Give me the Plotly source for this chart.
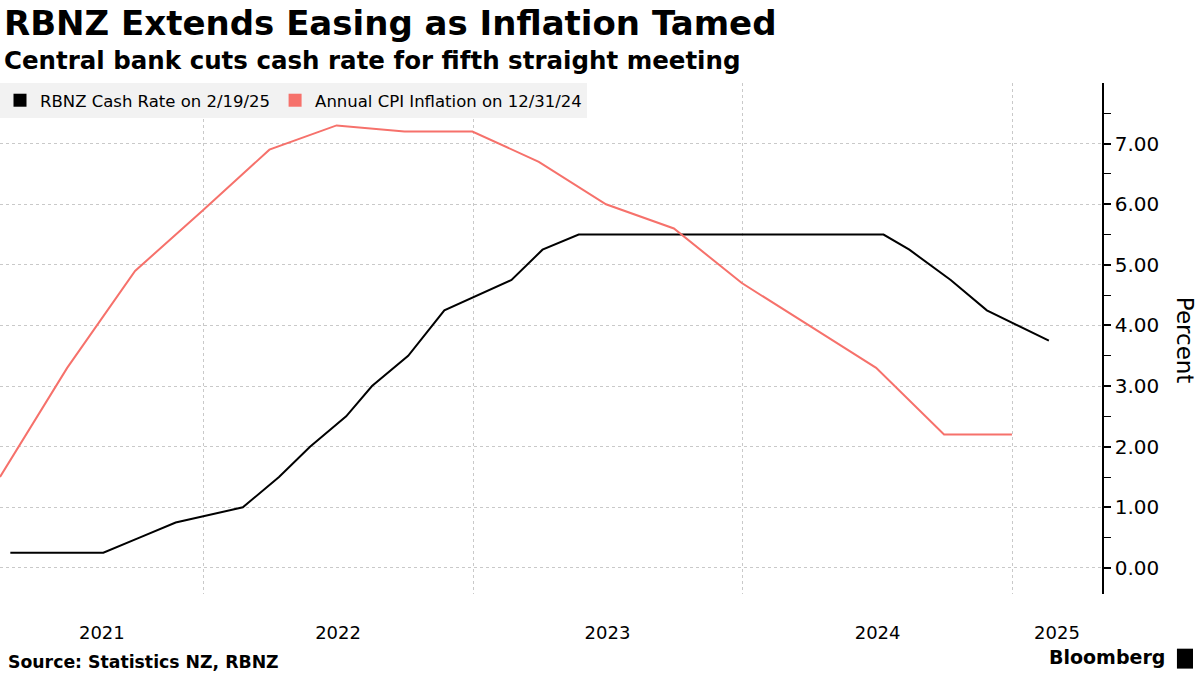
import plotly.graph_objects as go

# ---- data ----
cash_dates = ["2021-04-14", "2021-05-26", "2021-07-14", "2021-08-18", "2021-10-06", "2021-11-24",
              "2022-02-23", "2022-04-13", "2022-05-25", "2022-07-13", "2022-08-17", "2022-10-05",
              "2022-11-23", "2023-02-22", "2023-04-05", "2023-05-24", "2023-07-12", "2023-08-16",
              "2023-10-04", "2023-11-29", "2024-02-28", "2024-04-10", "2024-05-22", "2024-07-10",
              "2024-08-14", "2024-10-09", "2024-11-27", "2025-02-19"]
cash_rate = [0.25, 0.25, 0.25, 0.25, 0.5, 0.75,
             1.0, 1.5, 2.0, 2.5, 3.0, 3.5,
             4.25, 4.75, 5.25, 5.5, 5.5, 5.5,
             5.5, 5.5, 5.5, 5.5, 5.5, 5.5,
             5.25, 4.75, 4.25, 3.75]

cpi_dates = ["2021-03-31", "2021-06-30", "2021-09-30", "2021-12-31",
             "2022-03-31", "2022-06-30", "2022-09-30", "2022-12-31",
             "2023-03-31", "2023-06-30", "2023-09-30", "2023-12-31",
             "2024-03-31", "2024-06-30", "2024-09-30", "2024-12-31"]
cpi_values = [1.5, 3.3, 4.9, 5.9,
              6.9, 7.3, 7.2, 7.2,
              6.7, 6.0, 5.6, 4.7,
              4.0, 3.3, 2.2, 2.2]

year_boundaries = ["2022-01-01", "2023-01-01", "2024-01-01", "2025-01-01"]
year_label_pos = ["2021-08-16", "2022-07-02", "2023-07-02", "2024-07-02", "2025-03-02"]
year_labels = ["2021", "2022", "2023", "2024", "2025"]
y_ticks = [0, 1, 2, 3, 4, 5, 6, 7]
y_ticktext = ["0.00", "1.00", "2.00", "3.00", "4.00", "5.00", "6.00", "7.00"]

x_range = ["2021-03-31", "2025-05-02"]

BLACK = "#000000"
SALMON = "#f6716b"
FONT = "DejaVu Sans"

fig = go.Figure()
fig.add_trace(go.Scatter(x=cash_dates, y=cash_rate, mode="lines",
                         line=dict(color=BLACK, width=2), showlegend=False))
fig.add_trace(go.Scatter(x=cpi_dates, y=cpi_values, mode="lines",
                         line=dict(color=SALMON, width=2), showlegend=False))
# legend entries with square symbols
fig.add_trace(go.Scatter(x=[None], y=[None], mode="markers", xaxis="x2",
                         marker=dict(symbol="square", size=13, color=BLACK),
                         name="RBNZ Cash Rate on 2/19/25"))
fig.add_trace(go.Scatter(x=[None], y=[None], mode="markers", xaxis="x2",
                         marker=dict(symbol="square", size=13, color=SALMON),
                         name="Annual CPI Inflation on 12/31/24"))

grid = "#c9c9c9"
fig.update_layout(
    width=1200, height=675,
    margin=dict(l=0, r=98, t=83, b=81),
    paper_bgcolor="white", plot_bgcolor="white",
    font=dict(family=FONT, color="black"),
    showlegend=True,
    legend=dict(orientation="h", x=0, y=1, xanchor="left", yanchor="top",
                bgcolor="#f2f2f2", font=dict(size=16.5, family=FONT),
                itemwidth=30, tracegroupgap=0),
    xaxis=dict(type="date", range=x_range, tickvals=year_boundaries,
               showticklabels=False, ticks="", showgrid=True, gridcolor=grid,
               griddash="dot", gridwidth=1, zeroline=False, showline=False),
    xaxis2=dict(type="date", range=x_range, overlaying="x", anchor="y", side="bottom",
                tickvals=year_label_pos, ticktext=year_labels, ticks="",
                showgrid=False, zeroline=False, showline=False,
                tickfont=dict(size=18, family=FONT), ticklabelstandoff=26),
    yaxis=dict(side="right", range=[-0.43, 8], tickvals=y_ticks, ticktext=y_ticktext,
               showgrid=True, gridcolor=grid, griddash="dot", gridwidth=1,
               ticks="outside", ticklen=7, tickwidth=1.5, tickcolor=BLACK,
               showline=True, linecolor=BLACK, linewidth=1.5, zeroline=False,
               tickfont=dict(size=20, family=FONT),
               minor=dict(tickvals=[0.5, 1.5, 2.5, 3.5, 4.5, 5.5, 6.5, 7.5],
                          ticks="outside", ticklen=7, tickcolor=BLACK, tickwidth=1,
                          showgrid=False)),
)

fig.add_annotation(text="<b>RBNZ Extends Easing as Inflation Tamed</b>",
                   xref="paper", yref="paper", x=0.002, y=1.118,
                   xanchor="left", yanchor="middle", showarrow=False,
                   font=dict(size=34, family=FONT, color="black"))
fig.add_annotation(text="<b>Central bank cuts cash rate for fifth straight meeting</b>",
                   xref="paper", yref="paper", x=0.002, y=1.045,
                   xanchor="left", yanchor="middle", showarrow=False,
                   font=dict(size=24.5, family=FONT, color="black"))
fig.add_annotation(text="Percent", textangle=90,
                   xref="paper", yref="paper", x=1.0755, y=0.497,
                   xanchor="center", yanchor="middle", showarrow=False,
                   font=dict(size=23, family=FONT, color="black"))
fig.add_annotation(text="<b>Source: Statistics NZ, RBNZ</b>",
                   xref="paper", yref="paper", x=0.005, y=-0.133,
                   xanchor="left", yanchor="middle", showarrow=False,
                   font=dict(size=17.3, family=FONT, color="black"))
fig.add_annotation(text="<b>Bloomberg</b>",
                   xref="paper", yref="paper", x=1.059, y=-0.123,
                   xanchor="right", yanchor="middle", showarrow=False,
                   font=dict(size=19, family=FONT, color="black"))
fig.add_shape(type="rect", xref="paper", yref="paper",
              x0=1.068, x1=1.0826, y0=-0.146, y1=-0.107,
              fillcolor="black", line=dict(width=0))

fig.write_html("out.html", config={"displayModeBar": False},
               post_script="document.body.style.margin='0';document.body.style.overflow='hidden';")
